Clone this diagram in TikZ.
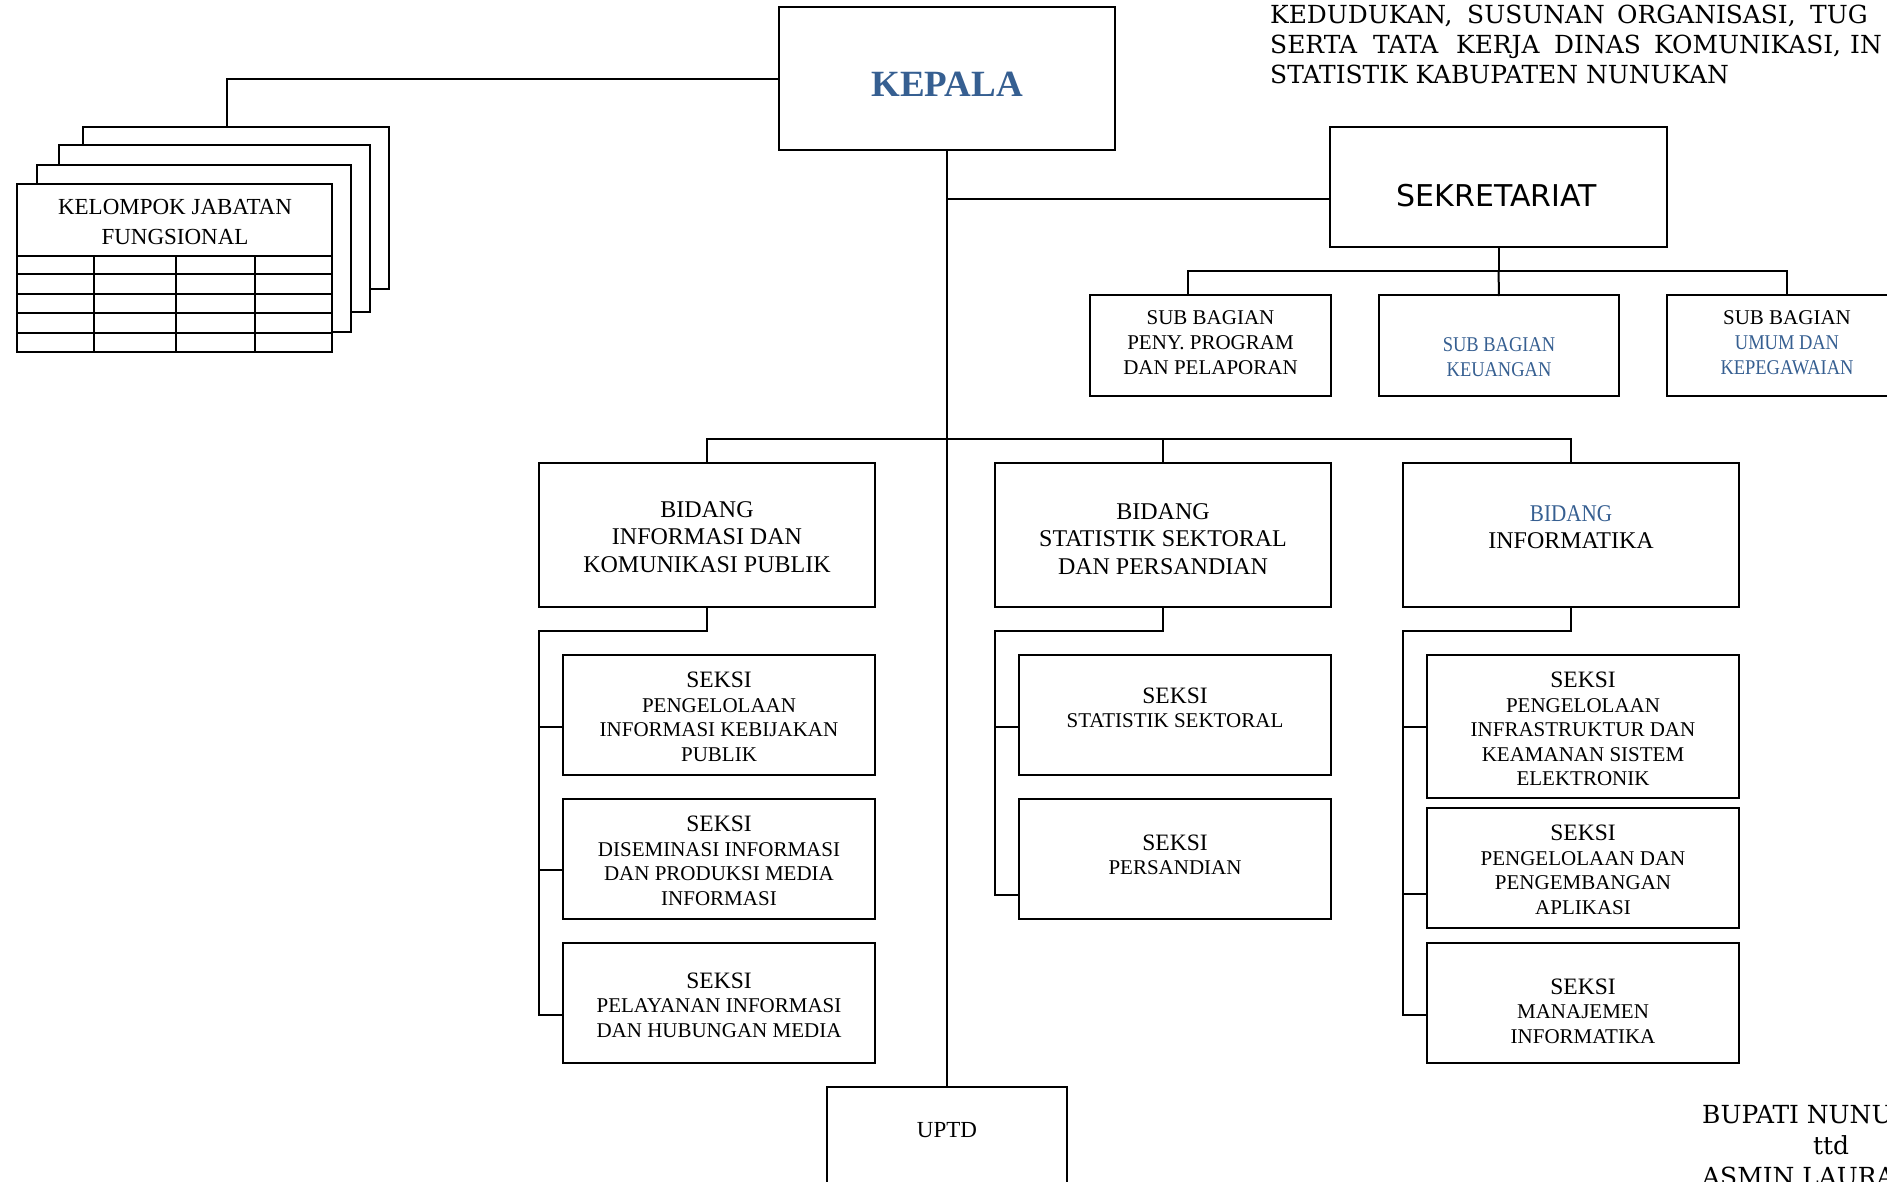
\documentclass[tikz,border=0pt]{standalone}
\usepackage{fontspec}
\setmainfont{Liberation Serif}
\newfontfamily\bookfont{DejaVu Serif}
\newfontfamily\tahomafont{DejaVu Sans}
\newfontfamily\bluefont[FakeStretch=0.88]{Liberation Serif}
\definecolor{wblue}{HTML}{365F91}
\newcommand\seksiword{{\fontsize{23.5}{24.5}\selectfont SEKSI}}
\tikzset{
  box/.style={draw=black, line width=2pt, fill=white, inner sep=0pt, outer sep=0pt},
  conn/.style={draw=black, line width=2pt, line cap=rect},
  thin/.style={draw=black, line width=1.8pt},
  lbl/.style={inner sep=0pt, align=center, font=\fontsize{21}{24.5}\selectfont},
  bid/.style={inner sep=0pt, align=center, font=\fontsize{24}{27.5}\selectfont},
  sub/.style={inner sep=0pt, align=center, font=\fontsize{21}{25}\selectfont},
  hdr/.style={inner sep=0pt, anchor=base west, font=\bookfont\fontsize{24.9}{30}\selectfont},
}
\begin{document}
\begin{tikzpicture}[x=1pt, y=-1pt]
\useasboundingbox (0,0) rectangle (1887,1181);
\clip (0,0) rectangle (1887,1181);
\fill[white] (0,0) rectangle (1887,1181);

% ---------- header text ----------
\node[hdr] (h1a) at (1270,23) {KEDUDUKAN,};
\node[hdr] (h1b) at (1467,23) {SUSUNAN};
\node[hdr] (h1c) at (1617,23) {ORGANISASI,};
\node[hdr] (h1d) at (1810,23) {TUG};
\node[hdr] (h2a) at (1270,53) {SERTA};
\node[hdr] (h2b) at (1373,53) {TATA};
\node[hdr] (h2c) at (1456,53) {KERJA};
\node[hdr] (h2d) at (1554,53) {DINAS};
\node[hdr] (h2e) at (1654,53) {KOMUNIKASI,};
\node[hdr] (h2f) at (1850,53) {IN};
\node[hdr] (h3a) at (1270,83) {STATISTIK KABUPATEN NUNUKAN};

% ---------- boxes ----------
\node[box, minimum width=336pt, minimum height=143pt] (kepala) at (947,78.5) {};
\node[inner sep=0pt, font=\bfseries\fontsize{37}{40}\selectfont, text=wblue] (kepalat) at (947,84) {KEPALA};

\node[box, minimum width=337pt, minimum height=120pt] (sekr) at (1498.5,187) {};
\node[inner sep=0pt, font=\tahomafont\fontsize{30}{32}\selectfont] (sekrt) at (1497,196) {SEKRETARIAT};

\node[box, minimum width=241pt, minimum height=101pt] (sub1) at (1210.5,345.5) {};
\node[sub] (sub1t) at (1210.5,343) {SUB BAGIAN\\PENY. PROGRAM\\DAN PELAPORAN};
\node[box, minimum width=240pt, minimum height=101pt] (sub2) at (1499,345.5) {};
\node[sub, font=\bluefont\fontsize{21}{25}\selectfont, text=wblue] (sub2t) at (1499,357) {SUB BAGIAN\\KEUANGAN};
\node[box, minimum width=240pt, minimum height=101pt] (sub3) at (1787,345.5) {};
\node[sub] (sub3t) at (1787,343) {SUB BAGIAN\\{\bluefont\color{wblue}UMUM DAN}\\{\bluefont\color{wblue}KEPEGAWAIAN}};

\node[box, minimum width=336pt, minimum height=144pt] (bida) at (707,535) {};
\node[bid] (bidat) at (707,537) {BIDANG\\INFORMASI DAN\\KOMUNIKASI PUBLIK};
\node[box, minimum width=336pt, minimum height=144pt] (bidb) at (1163,535) {};
\node[bid] (bidbt) at (1163,539) {BIDANG\\STATISTIK SEKTORAL\\DAN PERSANDIAN};
\node[box, minimum width=336pt, minimum height=144pt] (bidc) at (1571,535) {};
\node[bid] (bidct) at (1571,527) {{\bluefont\color{wblue}BIDANG}\\INFORMATIKA};

\node[box, minimum width=312pt, minimum height=120pt] (a1) at (719,715) {};
\node[lbl] (a1t) at (719,717) {\seksiword\\PENGELOLAAN\\INFORMASI KEBIJAKAN\\PUBLIK};
\node[box, minimum width=312pt, minimum height=120pt] (a2) at (719,859) {};
\node[lbl] (a2t) at (719,861) {\seksiword\\DISEMINASI INFORMASI\\DAN PRODUKSI MEDIA\\INFORMASI};
\node[box, minimum width=312pt, minimum height=120pt] (a3) at (719,1003) {};
\node[lbl] (a3t) at (719,1005) {\seksiword\\PELAYANAN INFORMASI\\DAN HUBUNGAN MEDIA};

\node[box, minimum width=312pt, minimum height=120pt] (b1) at (1175,715) {};
\node[lbl] (b1t) at (1175,708) {\seksiword\\STATISTIK SEKTORAL};
\node[box, minimum width=312pt, minimum height=120pt] (b2) at (1175,859) {};
\node[lbl] (b2t) at (1175,855) {\seksiword\\PERSANDIAN};

\node[box, minimum width=312pt, minimum height=143pt] (c1) at (1583,726.5) {};
\node[lbl] (c1t) at (1583,729) {\seksiword\\PENGELOLAAN\\INFRASTRUKTUR DAN\\KEAMANAN SISTEM\\ELEKTRONIK};
\node[box, minimum width=312pt, minimum height=120pt] (c2) at (1583,868) {};
\node[lbl] (c2t) at (1583,870) {\seksiword\\PENGELOLAAN DAN\\PENGEMBANGAN\\APLIKASI};
\node[box, minimum width=312pt, minimum height=120pt] (c3) at (1583,1003) {};
\node[lbl] (c3t) at (1583,1011) {\seksiword\\MANAJEMEN\\INFORMATIKA};

\node[box, minimum width=240pt, minimum height=113pt] (uptd) at (947,1143.5) {};
\node[inner sep=0pt, font=\fontsize{23}{25}\selectfont] (uptdt) at (947,1130) {UPTD};

% ---------- card stack ----------
\node[box, minimum width=306pt, minimum height=162pt] (card4) at (236,208) {};
\node[box, minimum width=311pt, minimum height=167pt] (card3) at (214.5,228.5) {};
\node[box, minimum width=314pt, minimum height=167pt] (card2) at (194,248.5) {};
\node[box, minimum width=315pt, minimum height=168pt] (card1) at (174.5,268) {};
\draw[thin] (17,256) -- (332,256);
\foreach \yy in {274,294,313,333} \draw[thin] (17,\yy) -- (332,\yy);
\foreach \xx in {94,176,255} \draw[thin] (\xx,256) -- (\xx,352);
\node[inner sep=0pt, align=center, font=\fontsize{23}{30}\selectfont] (cardt) at (175,222) {KELOMPOK JABATAN\\FUNGSIONAL};

% ---------- connectors ----------
\coordinate (kj) at (227,127);
\draw[conn] (kepala.west) -| (kj);
\draw[conn] (kepala.south) -- (uptd.north);
\coordinate (sj) at (947,199);
\draw[conn] (sj) -- (sj -| sekr.west);

\coordinate (sbl) at (1188,271);
\coordinate (sbr) at (1787,271);
\draw[conn] (sekr.south) -- (sekr.south |- sbl);
\draw[conn] (sbl) -- (sbr);
\draw[conn] (sbl) -- (sbl |- sub1.north);
\draw[conn] (sbr) -- (sub3.north);
\draw[conn] (sekr.south |- sbl) -- (sub2.north);

\coordinate (bl) at (707,439);
\coordinate (br) at (1571,439);
\draw[conn] (bl) -- (br);
\draw[conn] (bl) -- (bida.north);
\draw[conn] (1163,439) -- (bidb.north);
\draw[conn] (br) -- (bidc.north);

% group A
\coordinate (ga) at (539,631);
\coordinate (ga1) at (539,727);
\coordinate (ga2) at (539,870);
\coordinate (ga3) at (539,1015);
\draw[conn] (bida.south) |- (ga) -- (ga3);
\draw[conn] (ga1) -- (ga1 -| a1.west);
\draw[conn] (ga2) -- (ga2 -| a2.west);
\draw[conn] (ga3) -- (ga3 -| a3.west);

% group B
\coordinate (gb) at (995,631);
\coordinate (gb1) at (995,727);
\coordinate (gb2) at (995,895);
\draw[conn] (bidb.south) |- (gb) -- (gb2);
\draw[conn] (gb1) -- (gb1 -| b1.west);
\draw[conn] (gb2) -- (gb2 -| b2.west);

% group C
\coordinate (gc) at (1403,631);
\coordinate (gc1) at (1403,727);
\coordinate (gc2) at (1403,894);
\coordinate (gc3) at (1403,1015);
\draw[conn] (bidc.south) |- (gc) -- (gc3);
\draw[conn] (gc1) -- (gc1 -| c1.west);
\draw[conn] (gc2) -- (gc2 -| c2.west);
\draw[conn] (gc3) -- (gc3 -| c3.west);

% ---------- signature ----------
\node[hdr] (bup) at (1702,1123) {BUPATI NUNU};
\node[hdr] (ttd) at (1813,1154) {ttd};
\node[hdr] (asm) at (1702,1185) {ASMIN LAURA};
\end{tikzpicture}
\end{document}
